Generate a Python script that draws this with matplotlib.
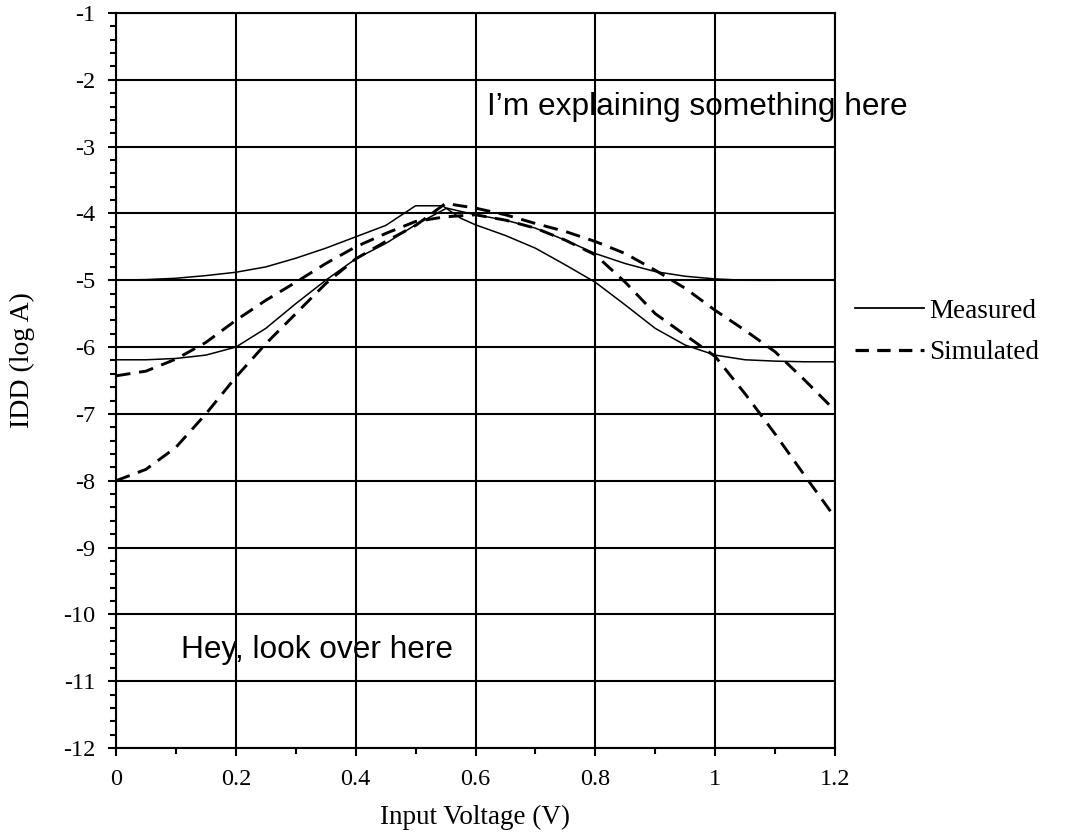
import matplotlib

matplotlib.use("Agg")
import matplotlib.pyplot as plt
from matplotlib.ticker import FuncFormatter, MultipleLocator

# measured, curve starting at -5 (plateau near the peak, ends at -6.2)
meas_a_v = [0, 0.05, 0.1, 0.15, 0.2, 0.25, 0.3, 0.35, 0.4, 0.45, 0.5, 0.545,
            0.575, 0.6, 0.65, 0.7, 0.75, 0.8, 0.85, 0.9, 0.95, 1.0, 1.05, 1.1, 1.15, 1.2]
meas_a_i = [-5.0, -4.99, -4.97, -4.93, -4.88, -4.8, -4.67, -4.52, -4.35, -4.18, -3.885, -3.885,
            -4.07, -4.17, -4.33, -4.52, -4.77, -5.03, -5.37, -5.72, -5.97, -6.12, -6.19, -6.21, -6.22, -6.22]

# measured, curve starting at -6.2 (ends at -5 near 1.1 V)
meas_b_v = [0, 0.05, 0.1, 0.15, 0.2, 0.25, 0.3, 0.35, 0.4, 0.45, 0.5, 0.552,
            0.6, 0.65, 0.7, 0.75, 0.8, 0.85, 0.9, 0.95, 1.0, 1.05, 1.1]
meas_b_i = [-6.19, -6.19, -6.17, -6.12, -6.0, -5.72, -5.35, -5.0, -4.68, -4.45, -4.17, -3.92,
            -4.02, -4.1, -4.22, -4.4, -4.6, -4.75, -4.87, -4.94, -4.98, -5.0, -5.0]

# simulated, curve starting at -8 (ends near -6.95)
sim_a_v = [0, 0.05, 0.1, 0.15, 0.2, 0.25, 0.3, 0.35, 0.4, 0.45, 0.5, 0.55,
           0.6, 0.65, 0.7, 0.75, 0.8, 0.85, 0.9, 0.95, 1.0, 1.05, 1.1, 1.15, 1.2]
sim_a_i = [-8.0, -7.83, -7.5, -7.0, -6.45, -5.95, -5.5, -5.05, -4.68, -4.42, -4.18, -3.85,
           -3.92, -4.02, -4.15, -4.27, -4.42, -4.6, -4.85, -5.12, -5.45, -5.75, -6.07, -6.5, -6.95]

# simulated, curve starting at -6.45 (ends near -8.55)
sim_b_v = [0, 0.05, 0.1, 0.15, 0.2, 0.25, 0.3, 0.35, 0.4, 0.45, 0.5, 0.55,
           0.6, 0.65, 0.7, 0.75, 0.8, 0.85, 0.9, 0.95, 1.0, 1.05, 1.1, 1.15, 1.2]
sim_b_i = [-6.43, -6.36, -6.18, -5.93, -5.6, -5.3, -5.03, -4.75, -4.5, -4.3, -4.12, -4.05,
           -4.02, -4.1, -4.22, -4.4, -4.62, -5.03, -5.5, -5.82, -6.14, -6.7, -7.3, -7.93, -8.55]

legend_labels = ["Measured", "Simulated"]
note_top = "I\u2019m explaining something here"
note_bottom = "Hey, look over here"


def main() -> None:
    plt.rcParams["axes.unicode_minus"] = False
    serif = "Liberation Serif"

    fig = plt.figure(figsize=(10.66, 8.32), dpi=100)
    ax = fig.add_axes([116 / 1066, 1 - 748 / 832, 719 / 1066, 735 / 832])

    ax.plot(meas_a_v, meas_a_i, color="black", lw=1.1, zorder=2)
    ax.plot(meas_b_v, meas_b_i, color="black", lw=1.1, zorder=2)
    ax.plot(sim_a_v, sim_a_i, color="black", lw=2.1, dashes=(5, 3), zorder=2)
    ax.plot(sim_b_v, sim_b_i, color="black", lw=2.1, dashes=(5, 3), zorder=2)

    ax.set_xlim(0, 1.2)
    ax.set_ylim(-12, -1)
    ax.xaxis.set_major_locator(MultipleLocator(0.2))
    ax.xaxis.set_minor_locator(MultipleLocator(0.1))
    ax.yaxis.set_major_locator(MultipleLocator(1))
    ax.yaxis.set_minor_locator(MultipleLocator(0.2))
    ax.xaxis.set_major_formatter(FuncFormatter(lambda v, _: f"{v:g}"))
    ax.yaxis.set_major_formatter(FuncFormatter(lambda v, _: f"{v:g}"))

    ax.grid(True, which="major", color="black", lw=1.5)
    ax.set_axisbelow(False)
    for spine in ax.spines.values():
        spine.set_linewidth(1.5)

    ax.tick_params(which="major", direction="out", length=6, width=1.5,
                   labelsize=17.5, pad=9)
    ax.tick_params(which="minor", direction="out", length=4.5, width=1.5)
    for lab in ax.get_xticklabels() + ax.get_yticklabels():
        lab.set_fontfamily(serif)

    ax.set_xlabel("Input Voltage (V)", fontsize=19.5, family=serif, labelpad=11)
    ax.set_ylabel("IDD (log A)", fontsize=20, family=serif)
    ax.yaxis.set_label_coords(-0.113, 0.528)

    ax.text(0.6185, -2.527, note_top, family="Liberation Sans", fontsize=22.75,
            ha="left", va="baseline", zorder=1)
    ax.text(0.108, -10.66, note_bottom, family="Liberation Sans", fontsize=22.75,
            ha="left", va="baseline", zorder=1)

    solid_handle = plt.Line2D([], [], color="black", lw=1.3)
    dash_handle = plt.Line2D([], [], color="black", lw=2.3, dashes=(4.2, 2.6))
    ax.legend([solid_handle, dash_handle], legend_labels, loc="center left",
              bbox_to_anchor=(1.028, 0.566), frameon=False, borderaxespad=0,
              borderpad=0, handlelength=2.55, handletextpad=0.2, labelspacing=0.6,
              prop={"family": serif, "size": 19.5})

    fig.savefig("out.png", dpi=100)
    plt.close(fig)


if __name__ == "__main__":
    main()
